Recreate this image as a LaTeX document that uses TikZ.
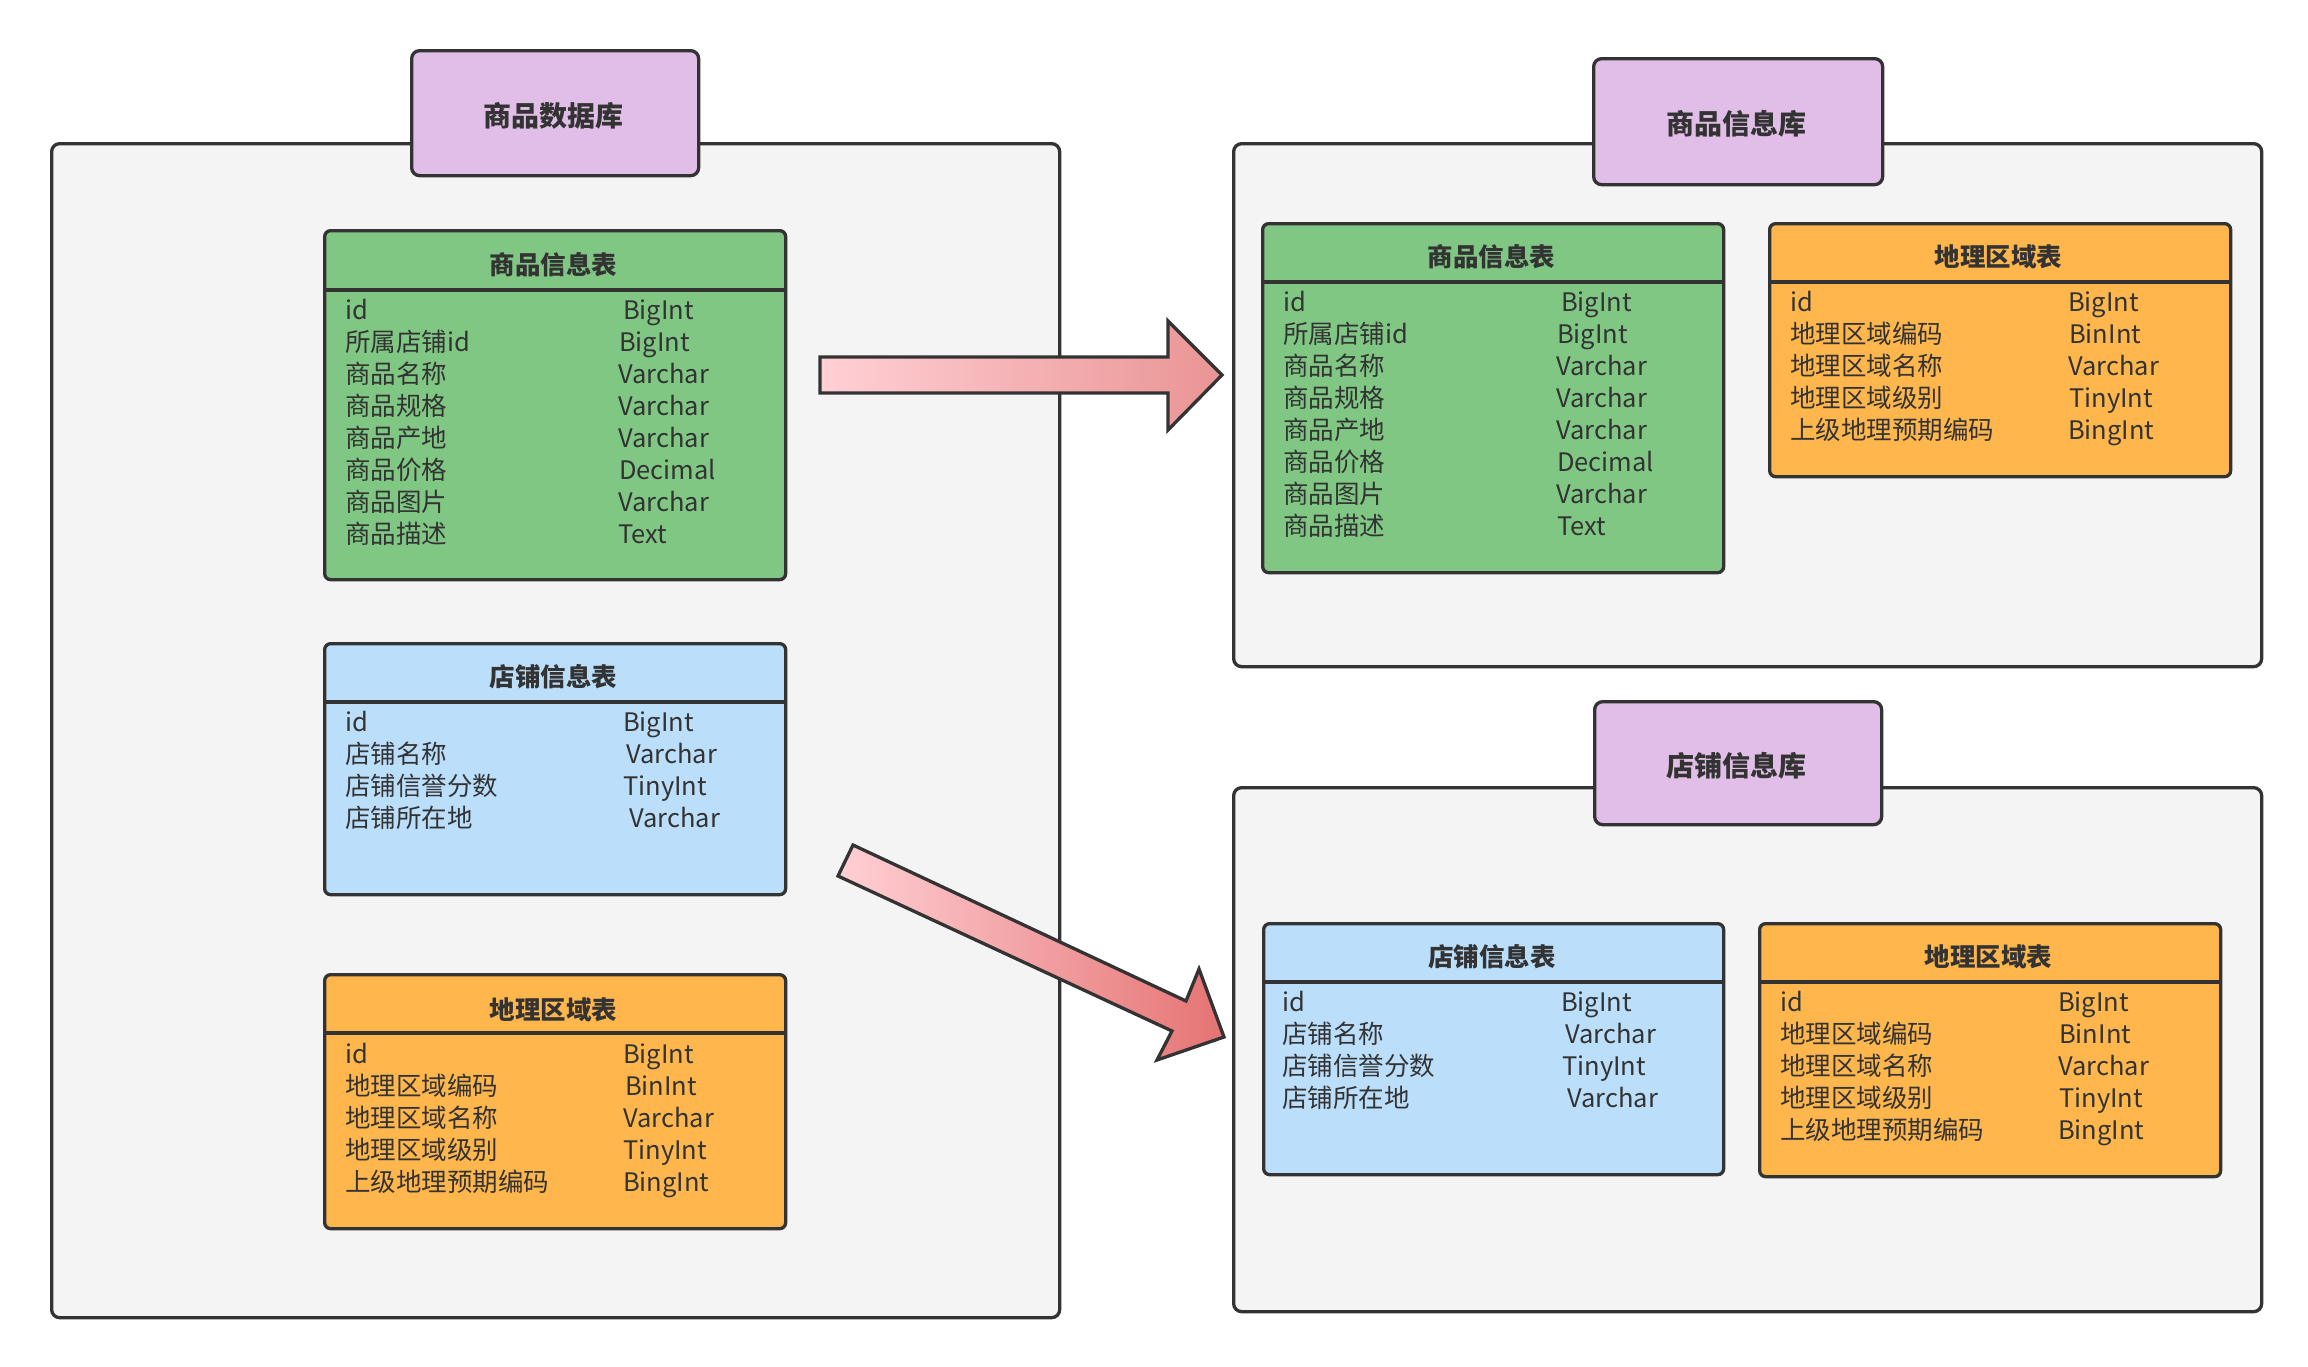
\documentclass[tikz,border=0pt]{standalone}
\usepackage{fontspec}
\setmainfont{Noto Sans CJK SC}
\definecolor{lc}{HTML}{333333}
\definecolor{txt}{HTML}{333333}
\definecolor{cont}{HTML}{F4F4F4}
\definecolor{purp}{HTML}{E1BEE7}
\definecolor{grn}{HTML}{81C784}
\definecolor{blu}{HTML}{BBDEFB}
\definecolor{org}{HTML}{FFB74D}
\definecolor{pinkA}{HTML}{FFD0D5}
\definecolor{pinkB}{HTML}{EA9494}
\definecolor{redB}{HTML}{E57373}
\tikzset{
  container/.style={draw=lc, line width=3.3pt, fill=cont, rounded corners=8pt, anchor=north west, inner sep=0pt},
  dblabel/.style={draw=lc, line width=3.3pt, fill=purp, rounded corners=8pt, anchor=north west, inner sep=0pt},
  tbl/.style={draw=lc, line width=3.3pt, rounded corners=6pt, anchor=north west, inner sep=0pt},
  sepline/.style={draw=lc, line width=3.3pt},
  title/.style={font=\fontsize{28}{32}\selectfont\bfseries, text=txt, inner sep=0pt, text height=0.88em, text depth=0.12em, yshift=-6pt},
  head/.style={font=\fontsize{25.5}{30}\selectfont\bfseries, text=txt, inner sep=0pt, text height=0.88em, text depth=0.12em, yshift=-6pt},
  fld/.style={font=\fontsize{25.5}{30}\selectfont, text=txt, inner sep=0pt, anchor=west, text height=0.88em, text depth=0.12em, yshift=-6pt},
  blockarrow/.style={draw=lc, line width=3.3pt, line join=miter},
}
\begin{document}
\begin{tikzpicture}[x=1pt,y=-1pt]
\useasboundingbox[fill=white] (0,0) rectangle (2308,1366);

% ---------- containers ----------
\node[container, minimum width=1008pt, minimum height=1174pt] (lc) at (50,142) {};
\node[container, minimum width=1028pt, minimum height=523pt] (ru) at (1232,142) {};
\node[container, minimum width=1028pt, minimum height=524pt] (rl) at (1232,786) {};

% ---------- db labels ----------
\node[dblabel, minimum width=287pt, minimum height=125pt] (lbl1) at (410,49) {};
\node[title] (lbl1t) at (553,117) {商品数据库};
\node[dblabel, minimum width=289pt, minimum height=126pt] (lbl2) at (1592,57) {};
\node[title] (lbl2t) at (1736,125) {商品信息库};
\node[dblabel, minimum width=287pt, minimum height=123pt] (lbl3) at (1593,700) {};
\node[title] (lbl3t) at (1736,767) {店铺信息库};

% ---------- left: 商品信息表 ----------
\node[tbl, fill=grn, minimum width=461pt, minimum height=349pt] (lg) at (323,229) {};
\draw[sepline] (lg.west |- 0,290) -- (lg.east |- 0,290);
\node[head] (lgh) at (553.5,265) {商品信息表};
\foreach \t [count=\i] in {id,所属店铺id,商品名称,商品规格,商品产地,商品价格,商品图片,商品描述}
  \node[fld] (lgf\i) at (345,{310+32*(\i-1)}) {\t};
\foreach \t/\x [count=\i] in {BigInt/623,BigInt/619,Varchar/618,Varchar/618,Varchar/618,Decimal/619,Varchar/618,Text/618}
  \node[fld] (lgt\i) at (\x,{310+32*(\i-1)}) {\t};

% ---------- left: 店铺信息表 ----------
\node[tbl, fill=blu, minimum width=461pt, minimum height=251pt] (lb) at (323,642) {};
\draw[sepline] (lb.west |- 0,702) -- (lb.east |- 0,702);
\node[head] (lbh) at (553.5,677) {店铺信息表};
\foreach \t [count=\i] in {id,店铺名称,店铺信誉分数,店铺所在地}
  \node[fld] (lbf\i) at (345,{722+32*(\i-1)}) {\t};
\foreach \t/\x [count=\i] in {BigInt/623,Varchar/626,TinyInt/623,Varchar/629}
  \node[fld] (lbt\i) at (\x,{722+32*(\i-1)}) {\t};

% ---------- left: 地理区域表 ----------
\node[tbl, fill=org, minimum width=461pt, minimum height=254pt] (lo) at (323,973) {};
\draw[sepline] (lo.west |- 0,1033) -- (lo.east |- 0,1033);
\node[head] (loh) at (553.5,1010) {地理区域表};
\foreach \t [count=\i] in {id,地理区域编码,地理区域名称,地理区域级别,上级地理预期编码}
  \node[fld] (lof\i) at (345,{1054+32*(\i-1)}) {\t};
\foreach \t/\x [count=\i] in {BigInt/623,BinInt/625,Varchar/623,TinyInt/623,BingInt/623}
  \node[fld] (lot\i) at (\x,{1054+32*(\i-1)}) {\t};

% ---------- right upper: 商品信息表 ----------
\node[tbl, fill=grn, minimum width=461pt, minimum height=349pt] (rg) at (1261,222) {};
\draw[sepline] (rg.west |- 0,282) -- (rg.east |- 0,282);
\node[head] (rgh) at (1491.5,257) {商品信息表};
\foreach \t [count=\i] in {id,所属店铺id,商品名称,商品规格,商品产地,商品价格,商品图片,商品描述}
  \node[fld] (rgf\i) at (1283,{302+32*(\i-1)}) {\t};
\foreach \t/\x [count=\i] in {BigInt/1561,BigInt/1557,Varchar/1556,Varchar/1556,Varchar/1556,Decimal/1557,Varchar/1556,Text/1557}
  \node[fld] (rgt\i) at (\x,{302+32*(\i-1)}) {\t};

% ---------- right upper: 地理区域表 ----------
\node[tbl, fill=org, minimum width=461pt, minimum height=253pt] (ro1) at (1768,222) {};
\draw[sepline] (ro1.west |- 0,282) -- (ro1.east |- 0,282);
\node[head] (ro1h) at (1998.5,257) {地理区域表};
\foreach \t [count=\i] in {id,地理区域编码,地理区域名称,地理区域级别,上级地理预期编码}
  \node[fld] (ro1f\i) at (1790,{302+32*(\i-1)}) {\t};
\foreach \t/\x [count=\i] in {BigInt/2068,BinInt/2069,Varchar/2068,TinyInt/2069,BingInt/2068}
  \node[fld] (ro1t\i) at (\x,{302+32*(\i-1)}) {\t};

% ---------- right lower: 店铺信息表 ----------
\node[tbl, fill=blu, minimum width=460pt, minimum height=251pt] (rb) at (1262,922) {};
\draw[sepline] (rb.west |- 0,982) -- (rb.east |- 0,982);
\node[head] (rbh) at (1492,957) {店铺信息表};
\foreach \t [count=\i] in {id,店铺名称,店铺信誉分数,店铺所在地}
  \node[fld] (rbf\i) at (1282,{1002+32*(\i-1)}) {\t};
\foreach \t/\x [count=\i] in {BigInt/1561,Varchar/1565,TinyInt/1562,Varchar/1567}
  \node[fld] (rbt\i) at (\x,{1002+32*(\i-1)}) {\t};

% ---------- right lower: 地理区域表 ----------
\node[tbl, fill=org, minimum width=461pt, minimum height=253pt] (ro2) at (1758,922) {};
\draw[sepline] (ro2.west |- 0,982) -- (ro2.east |- 0,982);
\node[head] (ro2h) at (1988.5,957) {地理区域表};
\foreach \t [count=\i] in {id,地理区域编码,地理区域名称,地理区域级别,上级地理预期编码}
  \node[fld] (ro2f\i) at (1780,{1002+32*(\i-1)}) {\t};
\foreach \t/\x [count=\i] in {BigInt/2058,BinInt/2059,Varchar/2058,TinyInt/2059,BingInt/2058}
  \node[fld] (ro2t\i) at (\x,{1002+32*(\i-1)}) {\t};

% ---------- block arrows ----------
\shadedraw[blockarrow, left color=pinkA, right color=pinkB]
  (820,357) -- (1168,357) -- (1168,321) -- (1222,375) -- (1168,430) -- (1168,393) -- (820,393) -- cycle;
\shadedraw[blockarrow, left color=pinkA, right color=redB]
  (853,845) -- (1186,1001) -- (1199,969) -- (1224,1037) -- (1157,1060) -- (1172,1031) -- (838,876) -- cycle;
\end{tikzpicture}
\end{document}
